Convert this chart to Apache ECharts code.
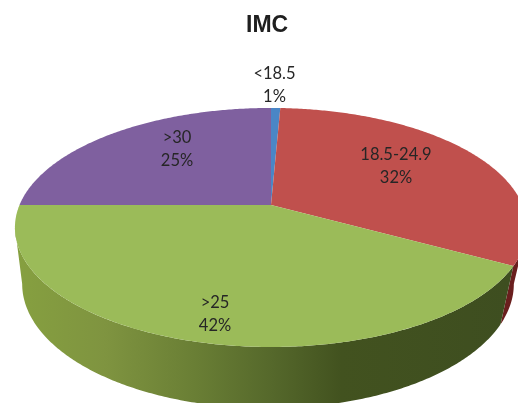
<!DOCTYPE html>
<html><head><meta charset="utf-8">
<style>html,body{margin:0;padding:0;background:#fff}#c{width:518px;height:403px}</style>
<script src="https://cdn.jsdelivr.net/npm/echarts@6/dist/echarts.min.js"></script>
</head><body><div id="c"></div>
<script>
const categories = ['<18.5', '18.5-24.9', '>25', '>30'];
const values = [0.7, 32.3, 42, 25];
const percentLabels = ['1%', '32%', '42%', '25%'];
const topColors = ['#4a86c6', '#c0504d', '#9bbb59', '#7f609f'];
const labelCenters = [[274.5, 85], [396, 166], [215, 314], [177, 149]];

const CX = 271, CY = 205, RX = 251.5, RY = 115.3, K = 0.188;
const BOTTOM_DX = -3, BOTTOM_DY = 55.6, BOTTOM_SX = 0.96, BOTTOM_SY = 1.04;
const WALL_START = Math.PI / 2 + Math.asin(K), WALL_END = 2 * Math.PI - WALL_START;
const total = values.reduce((a, b) => a + b, 0);

function project(angle, drop) {
  const x = Math.sin(angle), y = -Math.cos(angle), w = 1 - K * y;
  return drop
    ? [CX + BOTTOM_DX + BOTTOM_SX * RX * x / w, CY + BOTTOM_DY + BOTTOM_SY * RY * y / w]
    : [CX + RX * x / w, CY + RY * y / w];
}
function arc(a0, a1, drop) {
  const n = Math.max(2, Math.ceil((a1 - a0) / 0.01)), pts = [];
  for (let i = 0; i <= n; i++) pts.push(project(a0 + (a1 - a0) * i / n, drop));
  return pts;
}
const wallFill = [
  '#2b4a70', '#6a1f1e',
  new echarts.graphic.LinearGradient(15, 0, 510, 0, [
    { offset: 0, color: '#86a040' }, { offset: 0.18, color: '#7f9440' },
    { offset: 0.36, color: '#6a7f35' }, { offset: 0.52, color: '#55682b' },
    { offset: 0.66, color: '#42521f' }, { offset: 1, color: '#3e4e20' }
  ], true),
  '#4a3760'
];
const chart = echarts.init(document.getElementById('c'), null, { renderer: 'canvas' });
chart.setOption({
  animation: false,
  backgroundColor: '#fff',
  title: {
    text: 'IMC', left: 241, top: 9,
    textStyle: { fontFamily: 'Liberation Sans', fontWeight: 'bold', fontSize: 23, color: '#1f1f1f' }
  },
  series: [{
    type: 'custom',
    coordinateSystem: 'none',
    data: values.map((v, i) => ({ name: categories[i], value: v })),
    renderItem(params, api) {
      const i = params.dataIndex;
      const before = values.slice(0, i).reduce((a, b) => a + b, 0);
      const a0 = before / total * 2 * Math.PI;
      const a1 = (before + api.value(0)) / total * 2 * Math.PI;
      const topArc = arc(a0, a1, false);
      const children = [];
      const w0 = Math.max(a0, WALL_START), w1 = Math.min(a1, WALL_END);
      if (w1 > w0) {
        children.push({
          type: 'polygon', z2: 1,
          shape: { points: arc(w0, w1, false).concat(arc(w0, w1, true).reverse()) },
          style: { fill: wallFill[i] }
        });
      }
      children.push(
        { type: 'polygon', z2: 5, shape: { points: [[CX, CY]].concat(topArc) }, style: { fill: topColors[i] } },
        { type: 'text', z2: 10, style: {
            x: labelCenters[i][0], y: labelCenters[i][1],
            text: categories[i] + '\n' + percentLabels[i],
            font: '16.5px Lato', fill: '#262626', align: 'center', verticalAlign: 'middle', lineHeight: 22.5
        } }
      );
      return { type: 'group', children };
    }
  }]
});
</script></body></html>
